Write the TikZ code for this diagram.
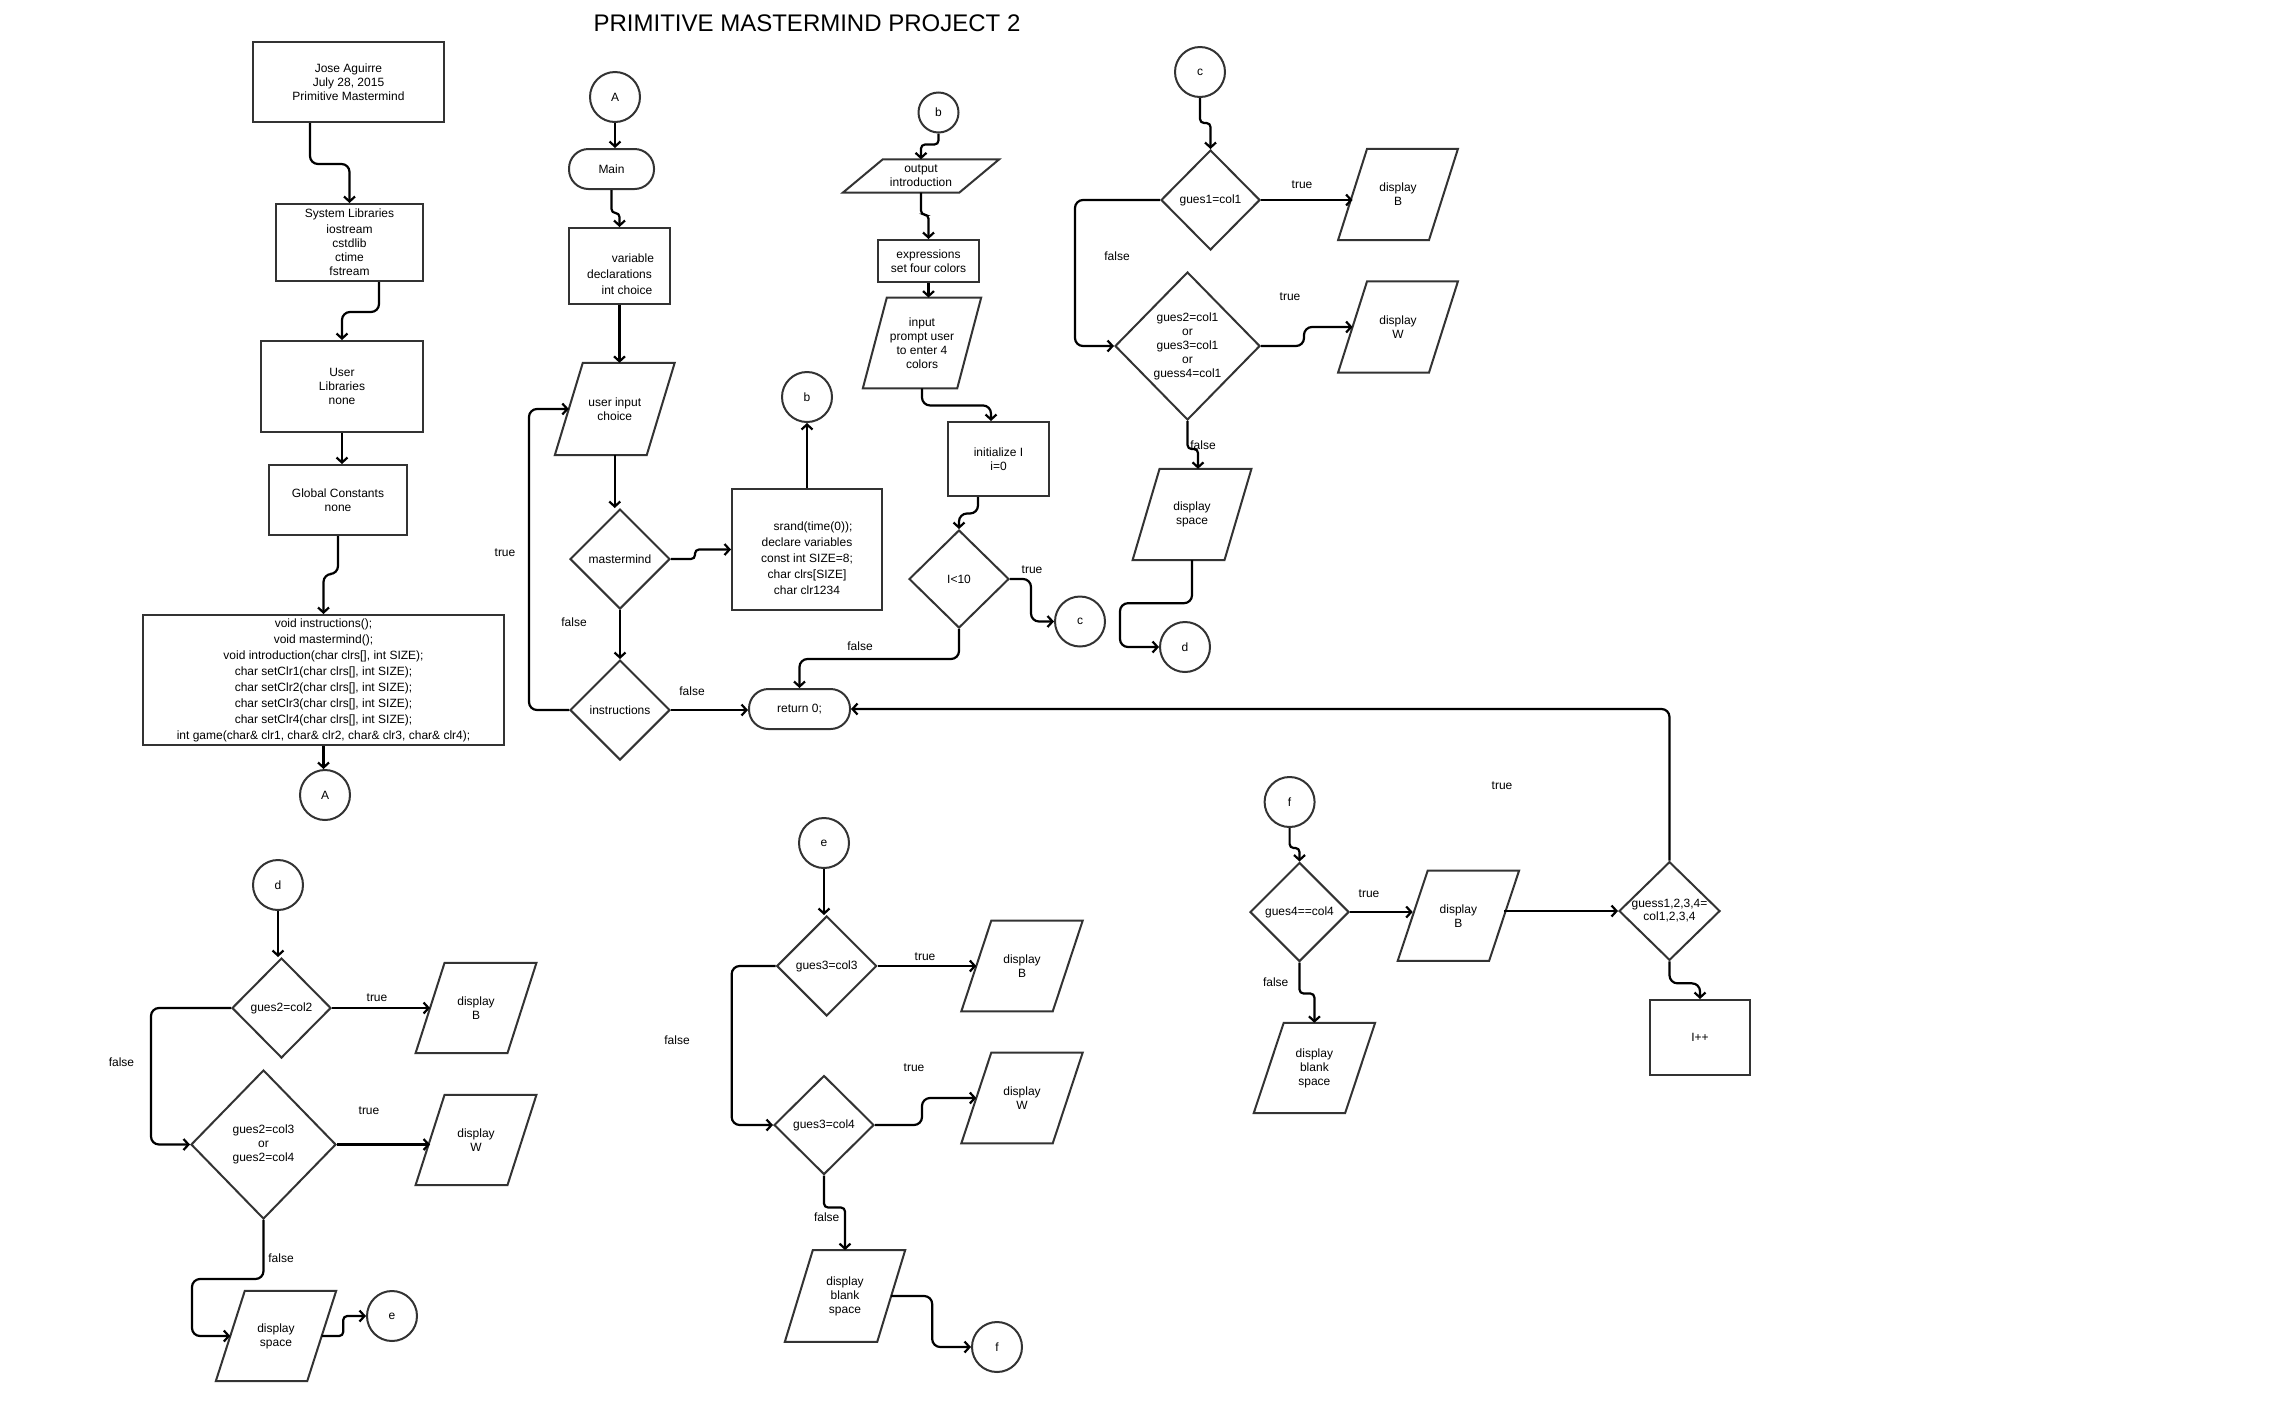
\documentclass[tikz,border=0pt]{standalone}
\usepackage{fontspec}
\setmainfont{Liberation Sans}
\usetikzlibrary{arrows.meta,shapes.geometric,calc}

% parallelogram: name, centre, width at mid height, height, slant, text
\newcommand\mkpara[6]{%
  \node[ptext, minimum width=#3, minimum height=#4] (#1) at #2 {#6};
  \draw[shapeline] ([xshift=#5/2]#1.north west) -- ([xshift=#5/2]#1.north east)
    -- ([xshift=-#5/2]#1.south east) -- ([xshift=-#5/2]#1.south west) -- cycle;
}

\begin{document}
\begin{tikzpicture}[x=1pt,y=-1pt,
  font=\fontsize{12}{14}\selectfont,
  box/.style={draw=black!80, line width=2pt, rectangle, align=center, inner sep=1pt},
  dec/.style={draw=black!80, line width=2pt, diamond, inner sep=0pt, align=center},
  term/.style={draw=black!80, line width=2pt, rectangle, rounded corners=19.5pt, align=center},
  conn/.style={draw=black!80, line width=2pt, circle, minimum size=50pt, inner sep=0pt},
  ptext/.style={rectangle, inner sep=0pt, align=center},
  shapeline/.style={draw=black!80, line width=2pt, line join=miter},
  flow/.style={line width=2.2pt, rounded corners=8pt, -{Straight Barb[length=5pt,width=11pt]}},
  jog/.style={flow, rounded corners=4pt},
  plain/.style={line width=2.2pt, rounded corners=8pt},
  lbl/.style={inner sep=0pt, align=center},
]
\fill[white] (0,0) rectangle (2295,1401);
\useasboundingbox (0,0) rectangle (2295,1401);

\node[lbl, font=\fontsize{24}{28}\selectfont] (title) at (807,23.5) {PRIMITIVE MASTERMIND PROJECT 2};

% ---------- program header column ----------
\node[box, minimum width=191, minimum height=80] (jose) at (348.5,82) {Jose Aguirre\\July 28, 2015\\Primitive Mastermind};
\node[box, minimum width=147, minimum height=77] (syslib) at (349.5,242.5) {System Libraries\\[2pt]iostream\\cstdlib\\ctime\\fstream};
\node[box, minimum width=162, minimum height=91] (userlib) at (342,386.5) {User\\Libraries\\none};
\node[box, minimum width=138, minimum height=70] (global) at (338,500) {Global Constants\\none};
\node[box, minimum width=361, minimum height=130, font=\fontsize{12}{16}\selectfont] (bigbox) at (323.5,680)
  {void instructions();\\void mastermind();\\void introduction(char clrs[], int SIZE);\\char setClr1(char clrs[], int SIZE);\\char setClr2(char clrs[], int SIZE);\\char setClr3(char clrs[], int SIZE);\\char setClr4(char clrs[], int SIZE);\\int game(char\& clr1, char\& clr2, char\& clr3, char\& clr4);};
\node[conn] (A2) at (325,795) {A};

\draw[flow] ([xshift=-38.5]jose.south) -- ++(0,41) -| (syslib.north);
\draw[flow] ([xshift=29.5]syslib.south) -- ++(0,30) -| (userlib.north);
\draw[flow] (userlib.south) -- (userlib.south |- global.north);
\draw[flow] (global.south) -- ++(0,38) -| (bigbox.north);
\draw[flow] (bigbox.south) -- (bigbox.south |- A2.north);

% ---------- main ----------
\node[conn] (A1) at (615,97) {A};
\node[term, minimum width=85, minimum height=40] (main) at (611.5,169) {Main};
\node[box, minimum width=101, minimum height=76] (vardecl) at (619.5,266) {};
\node[lbl, font=\fontsize{12}{16}\selectfont] (vardecltxt) at (619.5,274.5) {\hspace*{27pt}variable\\declarations\hspace*{9pt}\\\hspace*{15pt}int choice};
\mkpara{ui}{(614.75,409)}{91.5}{92}{28}{user input\\choice}
\node[dec, minimum width=100, minimum height=100] (mm) at (620,559) {mastermind};
\node[dec, minimum width=100, minimum height=100] (ins) at (620,710) {instructions};
\node[box, minimum width=150, minimum height=121] (srand) at (807,549.5) {};
\node[lbl, font=\fontsize{12}{16}\selectfont] (srandtxt) at (807,558) {\hspace*{12pt}srand(time(0));\\declare variables\\const int SIZE=8;\\char clrs[SIZE]\\char clr1234};
\node[conn] (b2) at (807,397) {b};
\node[term, minimum width=101, minimum height=40] (ret) at (799.5,709) {return 0;};

\draw[flow] (A1.south) -- (A1.south |- main.north);
\draw[jog] (main.south) -- ++(0,23) -| (vardecl.north);
\draw[flow] (vardecl.south) -- (vardecl.south |- ui.north);
\draw[flow] (ui.south) -- (ui.south |- mm.north);
\draw[jog] (mm.east) -- ++(24,0) |- (srand.west);
\draw[flow] (srand.north) -- (b2.south);
\draw[flow] (mm.south) -- (ins.north);
\draw[flow] (ins.east) -- (ins.east -| ret.west);
\draw[flow] (ins.west) -- ++(-40,0) |- (ui.west);

\node[lbl] (tloop) at (505,553) {true};
\node[lbl] (fmm) at (574,622) {false};
\node[lbl] (fins) at (692,691) {false};

% ---------- introduction / loop ----------
\node[draw=black!80, line width=2pt, circle, minimum size=40pt, inner sep=0pt] (b1) at (938.5,112.5) {b};
\mkpara{out}{(921,176)}{116}{33}{40}{output\\introduction}
\node[box, minimum width=101, minimum height=42, font=\fontsize{12}{13.5}\selectfont] (expr) at (928.5,261) {expressions\\set four colors};
\mkpara{inp}{(922,343)}{94}{90.5}{24}{input\\prompt user\\to enter 4\\colors}
\node[box, minimum width=101, minimum height=74] (init) at (998.5,459) {initialize I\\i=0};
\node[dec, minimum width=100, minimum height=98] (lt) at (959,579) {I\textless10};
\node[conn] (c1) at (1080,621.5) {c};

\draw[jog] (b1.south) -- ++(0,11) -| (out.north);
\draw[jog] (out.south) -- ++(0,22) -| (expr.north);
\draw[flow] (expr.south) -- (expr.south |- inp.north);
\draw[flow] (inp.south) -- ++(0,17) -| ([xshift=-7.5]init.north);
\draw[flow] ([xshift=-20.5]init.south) -- ++(0,16.5) -| (lt.north);
\draw[flow] (lt.east) -- ++(21,0) |- (c1.west);
\draw[flow] (lt.south) -- ++(0,30) -| (ret.north);

\node[lbl] (tlt) at (1032,570) {true};
\node[lbl] (flt) at (860,646) {false};

% ---------- c: first colour ----------
\node[conn] (c2) at (1200,72) {c};
\node[dec, minimum width=99, minimum height=100] (g1) at (1210.5,200) {gues1=col1};
\mkpara{cB}{(1398,194.5)}{90.5}{91}{29}{display\\B}
\node[dec, minimum width=145, minimum height=148] (g2) at (1187.5,346) {gues2=col1\\or\\gues3=col1\\or\\guess4=col1};
\mkpara{cW}{(1398,327)}{90.5}{91}{29}{display\\W}
\mkpara{cS}{(1192,514.5)}{91.5}{91}{27}{display\\space}
\node[conn] (d1) at (1185,647) {d};

\draw[jog] (c2.south) -- ++(0,25) -| (g1.north);
\draw[flow] (g1.east) -- (g1.east -| cB.west);
\draw[flow] (g1.west) -- ++(-85,0) |- (g2.west);
\draw[flow] (g2.east) -- ++(43,0) |- (cW.west);
\draw[jog] (g2.south) -- ++(0,28) -| ([xshift=6]cS.north);
\draw[flow] (cS.south) -- ++(0,43) -- ++(-72,0) |- (d1.west);

\node[lbl] (tg1) at (1302,185) {true};
\node[lbl] (fg1) at (1117,256) {false};
\node[lbl] (tg2) at (1290,297) {true};
\node[lbl] (fg2) at (1203,445) {false};

% ---------- d: second colour ----------
\node[conn] (d2) at (278,885) {d};
\node[dec, minimum width=99, minimum height=100] (g22) at (281.5,1008) {gues2=col2};
\mkpara{dB}{(476,1008)}{91.5}{90}{29}{display\\B}
\node[dec, minimum width=145, minimum height=149] (g23) at (263.5,1144.5) {gues2=col3\\or\\gues2=col4};
\mkpara{dW}{(476,1140)}{91.5}{90}{29}{display\\W}
\mkpara{dS}{(276,1336)}{91}{90}{29}{display\\space}
\node[conn] (e1) at (392,1316) {e};

\draw[flow] (d2.south) -- (d2.south |- g22.north);
\draw[flow] (g22.east) -- (g22.east -| dB.west);
\draw[flow] (g22.west) -- ++(-80,0) |- (g23.west);
\draw[flow] (g23.east) -- (g23.east -| dW.west);
\draw[flow] (g23.south) -- ++(0,59) -- ++(-71.5,0) |- (dS.west);
\draw[jog] (dS.east) -- ++(21.5,0) |- (e1.west);

\node[lbl] (tg22) at (377,998) {true};
\node[lbl] (fg22) at (121.5,1062.5) {false};
\node[lbl] (tg23) at (369,1110.5) {true};
\node[lbl] (fg23) at (281,1258) {false};

% ---------- e: third colour ----------
\node[conn] (e2) at (824,843) {e};
\node[dec, minimum width=100, minimum height=100] (g33) at (826.7,966) {gues3=col3};
\mkpara{eB}{(1022,966)}{91}{90.5}{30}{display\\B}
\node[dec, minimum width=100, minimum height=99] (g34) at (824,1125) {gues3=col4};
\mkpara{eW}{(1022,1098)}{91}{90.5}{30}{display\\W}
\mkpara{eX}{(845,1296)}{92}{91.4}{28}{display\\blank\\space}
\node[conn] (f1) at (997,1347) {f};

\draw[flow] (e2.south) -- (e2.south |- g33.north);
\draw[flow] (g33.east) -- (g33.east -| eB.west);
\draw[flow] (g33.west) -- ++(-44,0) |- (g34.west);
\draw[flow] (g34.east) -- ++(47,0) |- (eW.west);
\draw[jog] (g34.south) -- ++(0,32) -| (eX.north);
\draw[flow] (eX.east) -- ++(41,0) |- (f1.west);

\node[lbl] (tg33) at (925,956.5) {true};
\node[lbl] (fg33) at (677,1040.5) {false};
\node[lbl] (tg34) at (914,1068) {true};
\node[lbl] (fg34) at (826.7,1217) {false};

% ---------- f: fourth colour and check ----------
\node[conn] (f2) at (1289.6,802) {f};
\node[dec, minimum width=99, minimum height=99] (g44) at (1299.5,912) {gues4==col4};
\mkpara{fB}{(1458.4,915.7)}{91}{90}{30}{display\\B}
\mkpara{fX}{(1314.4,1068)}{91}{90}{30}{display\\blank\\space}
\node[dec, minimum width=101, minimum height=98, font=\fontsize{12}{13}\selectfont] (gall) at (1669.5,911) {guess1,2,3,4=\\col1,2,3,4};
\node[box, minimum width=100, minimum height=75] (inc) at (1700,1037.5) {I++};

\draw[jog] (f2.south) -- ++(0,20) -| (g44.north);
\draw[flow] (g44.east) -- (g44.east -| fB.west);
\draw[flow] (fB.east |- gall.west) -- (gall.west);
\draw[jog] (g44.south) -- ++(0,31) -| (fX.north);
\draw[flow] (gall.south) -- ++(0,22) -| (inc.north);
\draw[flow] (gall.north) |- (ret.east);

\node[lbl] (tg44) at (1369,894) {true};
\node[lbl] (fg44) at (1275.7,981.7) {false};
\node[lbl] (tall) at (1502,786) {true};

\end{tikzpicture}
\end{document}
